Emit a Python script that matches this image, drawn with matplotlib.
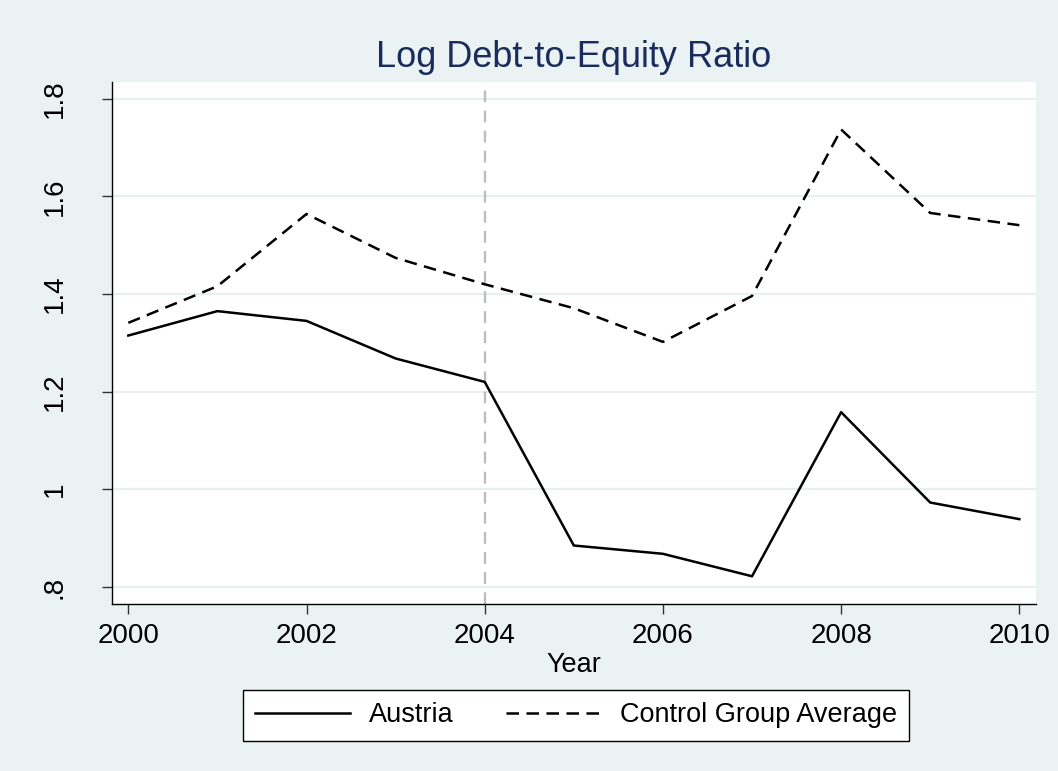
import matplotlib
matplotlib.use("Agg")
import matplotlib.pyplot as plt

plt.rcParams['font.family'] = ['Liberation Sans', 'DejaVu Sans']

years = [2000, 2001, 2002, 2003, 2004, 2005, 2006, 2007, 2008, 2009, 2010]
austria = [1.315, 1.365, 1.345, 1.268, 1.220, 0.885, 0.868, 0.822, 1.158, 0.973, 0.939]
control = [1.341, 1.416, 1.564, 1.474, 1.420, 1.371, 1.302, 1.396, 1.737, 1.566, 1.541]
event_year = 2004
xticks = [2000, 2002, 2004, 2006, 2008, 2010]
yticks = [0.8, 1.0, 1.2, 1.4, 1.6, 1.8]
ylabels = ['.8', '1', '1.2', '1.4', '1.6', '1.8']

bg = '#eaf2f3'
navy = '#1a2c5b'

fig = plt.figure(figsize=(10.58, 7.71), dpi=100, facecolor=bg)
ax = fig.add_axes([0.1056, 0.2166, 0.8736, 0.6774])
ax.set_facecolor('white')

# grid
for y in yticks:
    ax.axhline(y, color='#e9eff1', lw=1.6, zorder=0)

ax.axvline(event_year, color='#bdbdbd', lw=1.7, dashes=(5, 3.5), zorder=1)

ax.plot(years, austria, color='black', lw=1.8, label='Austria', zorder=3)
ax.plot(years, control, color='black', lw=1.8, dashes=(5, 3), label='Control Group Average', zorder=3)

ax.set_xlim(1999.814, 2010.187)
ax.set_ylim(0.7652, 1.8348)
ax.set_xticks(xticks)
ax.set_yticks(yticks)
ax.set_yticklabels(ylabels, rotation=90, va='center')

for s in ['top', 'right']:
    ax.spines[s].set_visible(False)
for s in ['left', 'bottom']:
    ax.spines[s].set_color('black')
    ax.spines[s].set_linewidth(1.0)

ax.tick_params(axis='both', direction='out', length=7.5, width=1.0, color='#333333', labelsize=20)
ax.tick_params(axis='x', pad=6)
ax.tick_params(axis='y', pad=24)

ax.set_xlabel('Year', fontsize=19.5, labelpad=2)
ax.set_title('Log Debt-to-Equity Ratio', fontsize=26, color=navy, pad=10.5)

leg = fig.legend(loc='center', bbox_to_anchor=(576 / 1058, 1 - 715.5 / 771), ncol=2,
                 fontsize=19.5, frameon=True, fancybox=False, framealpha=1,
                 edgecolor='black', handlelength=3.5, handletextpad=0.7,
                 columnspacing=1.95, borderpad=0.45)
leg.get_frame().set_linewidth(1.0)

fig.savefig('out.png', dpi=100, facecolor=bg)
